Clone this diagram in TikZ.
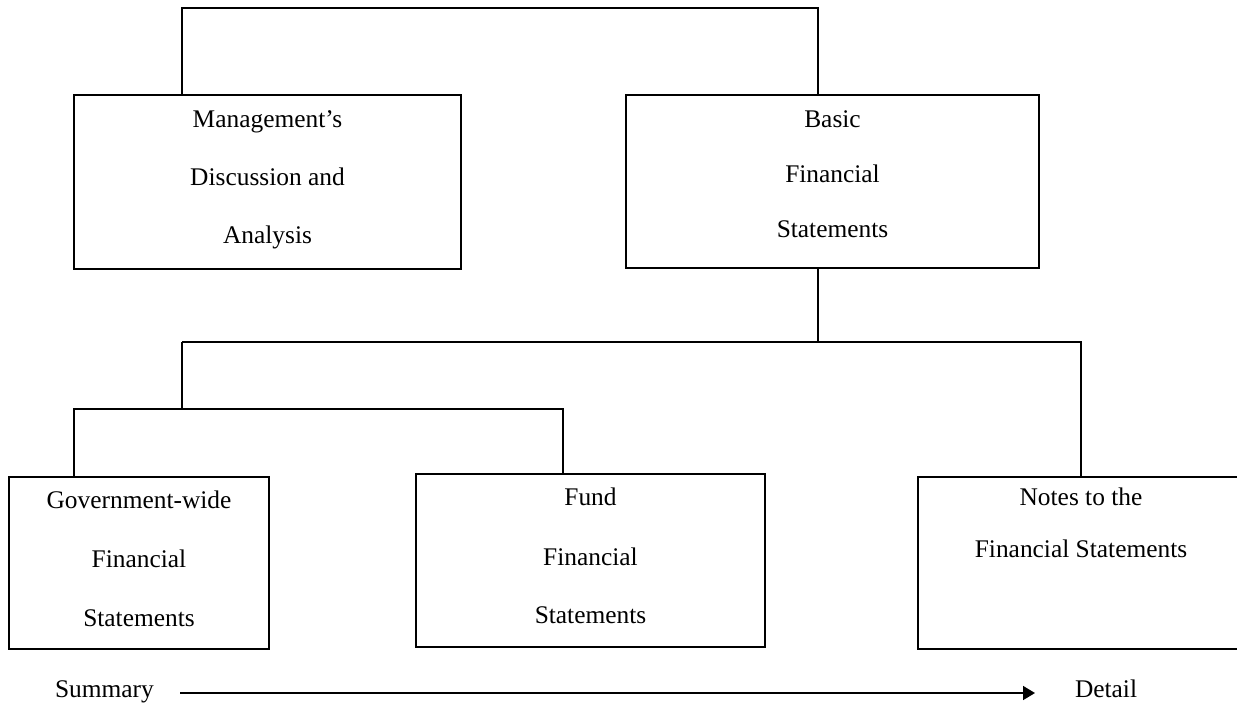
\documentclass[tikz,border=0pt]{standalone}
\usepackage{fontspec}
\setmainfont{Liberation Serif}
\usetikzlibrary{arrows.meta}
\begin{document}
\begin{tikzpicture}[x=0.5pt,y=-0.5pt,
  every node/.style={font=\fontsize{12.7}{15}\selectfont, inner sep=0pt, outer sep=0pt},
  boxnode/.style={draw=black, line width=1.1pt, rectangle},
  txt/.style={anchor=base},
  conn/.style={draw=black, line width=1pt},
  arr/.style={draw=black, line width=0.8pt, -{Triangle[length=6pt,width=7pt]}}]
\useasboundingbox (0,0) rectangle (1237,707);
% boxes
\node[boxnode, minimum width=193.5pt, minimum height=87pt] (mda) at (267.5,182) {};
\node[boxnode, minimum width=206.5pt, minimum height=86.5pt] (basic) at (832.5,181.5) {};
\node[boxnode, minimum width=130pt, minimum height=86pt] (gov) at (139,563) {};
\node[boxnode, minimum width=174.5pt, minimum height=86.5pt] (fund) at (590.5,560.5) {};
\node[boxnode, minimum width=163pt, minimum height=86pt] (notes) at (1081,563) {};
% texts
\node[txt] (mda1) at (267.5,127) {Management’s};
\node[txt] (mda2) at (267.5,185) {Discussion and};
\node[txt] (mda3) at (267.5,243) {Analysis};
\node[txt] (bas1) at (832.5,127) {Basic};
\node[txt] (bas2) at (832.5,182) {Financial};
\node[txt] (bas3) at (832.5,237) {Statements};
\node[txt] (gov1) at (139,508) {Government-wide};
\node[txt] (gov2) at (139,567) {Financial};
\node[txt] (gov3) at (139,626) {Statements};
\node[txt] (fund1) at (590.5,505) {Fund};
\node[txt] (fund2) at (590.5,565) {Financial};
\node[txt] (fund3) at (590.5,623) {Statements};
\node[txt] (not1) at (1081,505) {Notes to the};
\node[txt] (not2) at (1081,557) {Financial Statements};
% connectors
\coordinate (t1) at (182,8);
\coordinate (t2) at (818,8);
\draw[conn] (t1 |- mda.north) -- (t1) -- (t2) -- (t2 |- basic.north);
\coordinate (j0) at (818,342);
\coordinate (jl) at (182,342);
\coordinate (jr) at (1081,342);
\coordinate (k0) at (182,409);
\coordinate (kl) at (74,409);
\coordinate (kr) at (563,409);
\draw[conn] (j0 |- basic.south) -- (j0);
\draw[conn] (jl) -- (jr) -- (jr |- notes.north);
\draw[conn] (jl) -- (k0);
\draw[conn] (kl |- gov.north) -- (kl) -- (kr) -- (kr |- fund.north);
% summary -> detail
\node[anchor=base west] (sum) at (55,697) {Summary};
\node[anchor=base west] (det) at (1075,697) {Detail};
\coordinate (a1) at (180,693);
\coordinate (a2) at (1035,693);
\draw[arr] (a1) -- (a2);
\end{tikzpicture}
\end{document}
